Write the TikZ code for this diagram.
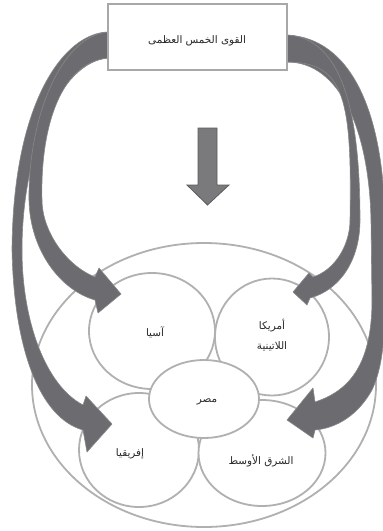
\documentclass[tikz,border=0pt]{standalone}
\usepackage{fontspec}
\usetikzlibrary{shapes.geometric}
\newfontfamily\arabicfont[Script=Arabic]{DejaVu Sans}
\TeXXeTstate=1
\definecolor{circ}{RGB}{176,176,176}
\definecolor{arrfill}{RGB}{108,108,112}
\definecolor{arrline}{RGB}{136,136,138}
\definecolor{boxline}{RGB}{168,168,168}
\definecolor{downfill}{RGB}{122,122,124}
\definecolor{downline}{RGB}{92,92,94}
\definecolor{txt}{RGB}{40,40,40}
\begin{document}
\begin{tikzpicture}[x=1pt,y=-1pt,
  region/.style={ellipse,draw=circ,line width=1.8pt,fill=white,inner sep=0pt},
  lbl/.style={text=txt,font=\arabicfont\fontsize{10.4}{20}\selectfont,align=center,inner sep=0pt},
  bigarrow/.style={fill=arrfill,draw=arrline,line width=0.6pt,line join=round},
  titlebox/.style={draw=boxline,line width=1.8pt,fill=white,minimum width=179pt,minimum height=66pt,inner sep=0pt}]
\useasboundingbox (0,0) rectangle (383,531);
\fill[white] (0,0) rectangle (383,531);
% regions
\node[region,minimum width=344pt,minimum height=284pt] (world) at (204,385) {};
\node[region,minimum width=126pt,minimum height=116pt] (asia) at (152,331) {};
\node[region,minimum width=114pt,minimum height=117pt] (latam) at (272,337) {};
\node[region,minimum width=120pt,minimum height=114pt] (africa) at (139,450) {};
\node[region,minimum width=127pt,minimum height=106pt] (mideast) at (262,453) {};
\node[region,minimum width=110pt,minimum height=78pt] (egypt) at (204,399) {};
% labels
\node[lbl] (tasia) at (155,332) {\beginR آسيا\endR};
\node[lbl] (tlatam) at (272,335) {\beginR أمريكا\endR\\\beginR اللاتينية\endR};
\node[lbl] (tegypt) at (207,402) {\beginR مصر\endR};
\node[lbl] (tafrica) at (130,454) {\beginR إفريقيا\endR};
\node[lbl] (tmideast) at (261,461) {\beginR الشرق الأوسط\endR};
% curved arrows
\draw[bigarrow] (108,32) .. controls (65,33) and (13,100) .. (12,250)
  .. controls (14,350) and (40,418) .. (83,430)
  -- (87,452) -- (112,424) -- (86,396) -- (83,405)
  .. controls (45,385) and (22,320) .. (22,250)
  .. controls (22,150) and (60,62) .. (108,58) -- cycle;
\draw[bigarrow] (108,32) .. controls (60,36) and (28,120) .. (29,200)
  .. controls (30,250) and (60,290) .. (95,300)
  -- (98,313) -- (121,294) -- (99,268) -- (95,277)
  .. controls (65,265) and (42,230) .. (42,200)
  .. controls (40,125) and (62,62) .. (108,58) -- cycle;
\draw[bigarrow] (287,35) .. controls (350,38) and (385,110) .. (385,230)
  .. controls (386,320) and (386,360) .. (372,390)
  .. controls (358,415) and (337,428) .. (315,430)
  -- (313,438) -- (287,420) -- (313,388) -- (315,402)
  .. controls (345,392) and (372,370) .. (372,300)
  -- (371,220) .. controls (369,130) and (340,62) .. (287,62) -- cycle;
\draw[bigarrow] (287,35) .. controls (345,38) and (360,120) .. (360,220)
  .. controls (360,260) and (340,290) .. (310,298)
  -- (307,305) -- (293,292) -- (309,273) -- (313,277)
  .. controls (335,270) and (350,245) .. (350,220)
  .. controls (352,100) and (345,62) .. (287,62) -- cycle;
% title box
\node[titlebox] (powers) at (197.5,37) {};
\node[lbl] (tpowers) at (197,41) {\beginR القوى الخمس العظمى\endR};
% down arrow
\draw[fill=downfill,draw=downline,line width=0.8pt,line join=miter]
  (198,128) -- (217,128) -- (217,185) -- (229,185) -- (207.5,205) -- (187,185) -- (198,185) -- cycle;
\end{tikzpicture}
\end{document}
